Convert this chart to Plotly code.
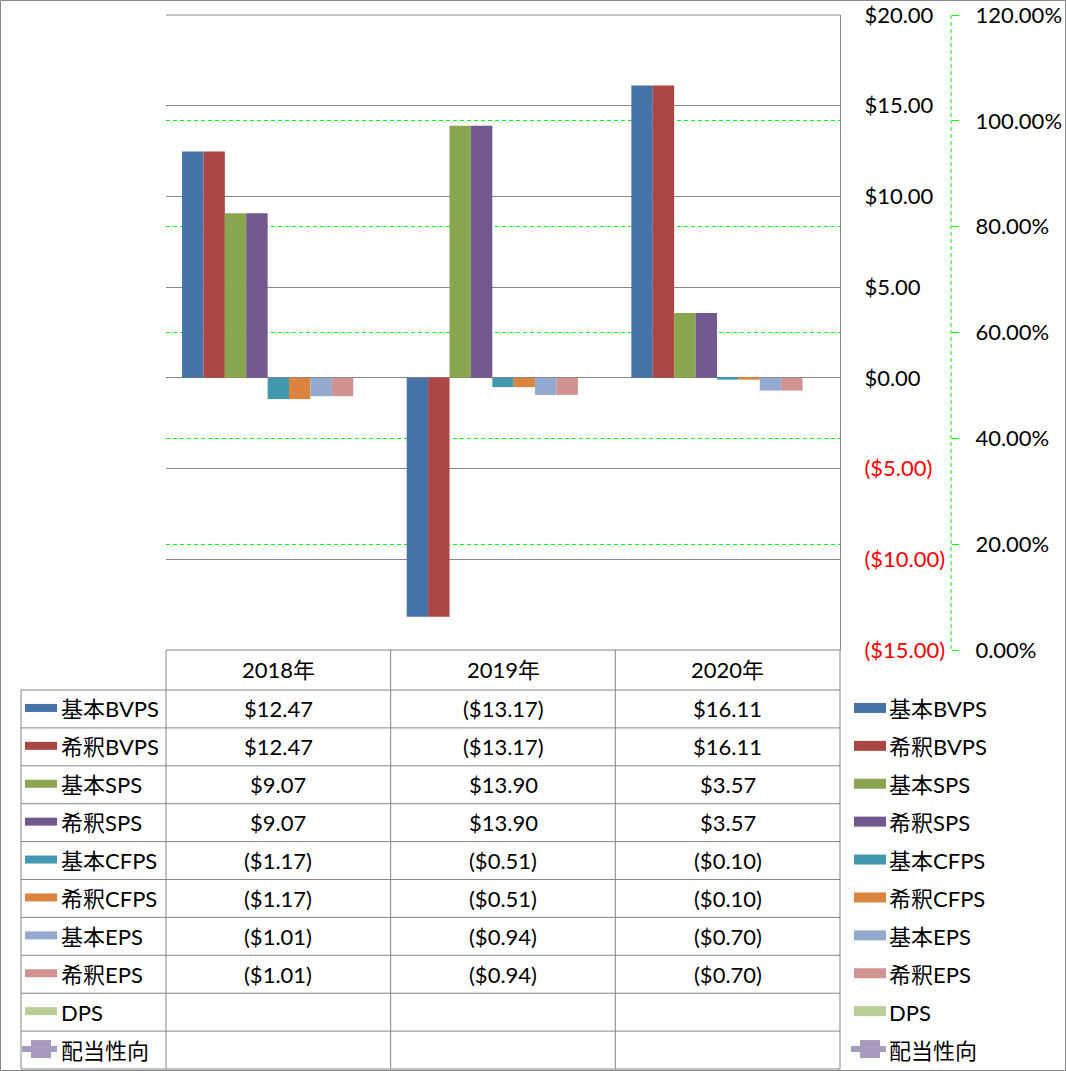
import plotly.graph_objects as go

W, H = 1066, 1071

# ---------------- data ----------------
years = ["2018年", "2019年", "2020年"]
series_names = ["基本BVPS", "希釈BVPS", "基本SPS", "希釈SPS", "基本CFPS",
                "希釈CFPS", "基本EPS", "希釈EPS", "DPS"]
basic_bvps = [12.47, -13.17, 16.11]
diluted_bvps = [12.47, -13.17, 16.11]
basic_sps = [9.07, 13.90, 3.57]
diluted_sps = [9.07, 13.90, 3.57]
basic_cfps = [-1.17, -0.51, -0.10]
diluted_cfps = [-1.17, -0.51, -0.10]
basic_eps = [-1.01, -0.94, -0.70]
diluted_eps = [-1.01, -0.94, -0.70]
dps = [None, None, None]
payout_name = "配当性向"
payout_ratio = [None, None, None]

series_values = [basic_bvps, diluted_bvps, basic_sps, diluted_sps, basic_cfps,
                 diluted_cfps, basic_eps, diluted_eps, dps]
bar_colors = ["#4572A7", "#AA4643", "#89A54E", "#71588F", "#4198AF",
              "#DB843D", "#93A9CF", "#D19392", "#B9CD96"]
payout_color = "#A99BBD"

usd_ticks = [-15, -10, -5, 0, 5, 10, 15, 20]
pct_ticks = [0.0, 0.2, 0.4, 0.6, 0.8, 1.0, 1.2]

# ---------------- style ----------------
FONT = "Lato, 'Noto Sans CJK JP', sans-serif"
FS = 22
GRAY = "#868686"
GREEN = "#00FF00"
RED = "#FF0000"


def px(x):
    return x / W


def py(y):
    return 1 - y / H


def usd(v):
    if v is None:
        return ""
    return f"${v:,.2f}" if v >= 0 else f"(${-v:,.2f})"


PLOT_L, PLOT_R, PLOT_T, PLOT_B = 166, 840, 15, 650
SEC_AXIS_X = 951
LEG_L = 21
ROW_TOP = 690
ROW_BOT = 1069
n_rows = len(series_names) + 1
ROW_H = (ROW_BOT - ROW_TOP) / n_rows

fig = go.Figure()

for name, vals, col in zip(series_names, series_values, bar_colors):
    fig.add_trace(go.Bar(x=years, y=vals, name=name, marker_color=col,
                         marker_line_width=0, yaxis="y", hoverinfo="skip"))

fig.add_trace(go.Scatter(x=years, y=payout_ratio, name=payout_name, yaxis="y2",
                         mode="lines+markers",
                         line=dict(color=payout_color, width=6),
                         marker=dict(symbol="square", size=14, color=payout_color),
                         hoverinfo="skip"))

usd_text = []
for v in usd_ticks:
    t = usd(v)
    if v < 0:
        t = f'<span style="color:{RED}">{t}</span>'
    usd_text.append(t)

shapes = []
annotations = []

# outer border
shapes.append(dict(type="rect", xref="paper", yref="paper",
                   x0=px(0.5), x1=px(W - 0.5), y0=py(0.5), y1=py(H - 0.5),
                   line=dict(color=GRAY, width=1), layer="above"))
# top plot line (over secondary grid)
shapes.append(dict(type="line", xref="paper", yref="paper",
                   x0=px(PLOT_L), x1=px(PLOT_R), y0=py(PLOT_T), y1=py(PLOT_T),
                   line=dict(color=GRAY, width=1), layer="above"))
# secondary axis dashed line
shapes.append(dict(type="line", xref="paper", yref="paper",
                   x0=px(SEC_AXIS_X), x1=px(SEC_AXIS_X), y0=py(PLOT_T), y1=py(PLOT_B),
                   line=dict(color=GREEN, width=1, dash="4px,3px"), layer="above"))

# table horizontal lines
shapes.append(dict(type="line", xref="paper", yref="paper",
                   x0=px(PLOT_L), x1=px(PLOT_R), y0=py(PLOT_B), y1=py(PLOT_B),
                   line=dict(color=GRAY, width=1), layer="above"))
for i in range(n_rows + 1):
    yy = ROW_TOP + i * ROW_H
    shapes.append(dict(type="line", xref="paper", yref="paper",
                       x0=px(LEG_L), x1=px(PLOT_R), y0=py(yy), y1=py(yy),
                       line=dict(color=GRAY, width=1), layer="above"))
# table vertical lines
shapes.append(dict(type="line", xref="paper", yref="paper",
                   x0=px(LEG_L), x1=px(LEG_L), y0=py(ROW_TOP), y1=py(ROW_BOT),
                   line=dict(color=GRAY, width=1), layer="above"))
for xx in [PLOT_L, PLOT_R]:
    shapes.append(dict(type="line", xref="paper", yref="paper",
                       x0=px(xx), x1=px(xx), y0=py(PLOT_B), y1=py(ROW_BOT),
                       line=dict(color=GRAY, width=1), layer="above"))
for k in range(1, len(years)):
    shapes.append(dict(type="line", xref="x", yref="paper",
                       x0=k - 0.5, x1=k - 0.5, y0=py(PLOT_B), y1=py(ROW_BOT),
                       line=dict(color=GRAY, width=1), layer="above"))

# header
for yr in years:
    annotations.append(dict(x=yr, y=py((PLOT_B + ROW_TOP) / 2 - 1), xref="x", yref="paper",
                            text=yr, showarrow=False, xanchor="center", yanchor="middle",
                            font=dict(family=FONT, size=FS, color="#000")))

all_names = series_names + [payout_name]
all_values = series_values + [payout_ratio]
all_colors = bar_colors + [payout_color]


def legend_key(x0, x1, yc, color, is_line, hh):
    if not is_line:
        shapes.append(dict(type="rect", xref="paper", yref="paper",
                           x0=px(x0), x1=px(x1), y0=py(yc - hh / 2), y1=py(yc + hh / 2),
                           fillcolor=color, line=dict(width=0), layer="above"))
    else:
        shapes.append(dict(type="line", xref="paper", yref="paper",
                           x0=px(x0 - 3), x1=px(x1), y0=py(yc), y1=py(yc),
                           line=dict(color=color, width=6), layer="above"))
        xc = (x0 + x1) / 2
        shapes.append(dict(type="rect", xref="paper", yref="paper",
                           x0=px(xc - 10), x1=px(xc + 10), y0=py(yc - 9), y1=py(yc + 9),
                           fillcolor=color, line=dict(width=0), layer="above"))


for i, (name, vals, col) in enumerate(zip(all_names, all_values, all_colors)):
    yc = ROW_TOP + (i + 0.5) * ROW_H
    is_line = (i == len(all_names) - 1)
    # left legend in table
    legend_key(25, 57, yc - 1, col, is_line, 8)
    annotations.append(dict(x=px(59), y=py(yc), xref="paper", yref="paper",
                            text=name, showarrow=False, xanchor="left", yanchor="middle",
                            font=dict(family=FONT, size=FS, color="#000")))
    # right legend
    legend_key(854, 886, yc - 1, col, is_line, 10)
    annotations.append(dict(x=px(887), y=py(yc), xref="paper", yref="paper",
                            text=name, showarrow=False, xanchor="left", yanchor="middle",
                            font=dict(family=FONT, size=FS, color="#000")))
    # values
    for yr, v in zip(years, vals):
        if v is None:
            continue
        txt = usd(v) if not is_line else f"{v:.2%}"
        annotations.append(dict(x=yr, y=py(yc), xref="x", yref="paper",
                                text=txt, showarrow=False, xanchor="center",
                                yanchor="middle",
                                font=dict(family=FONT, size=FS, color="#000")))

fig.update_layout(
    template="none",
    width=W, height=H,
    margin=dict(l=0, r=0, t=0, b=0, pad=0, autoexpand=False),
    paper_bgcolor="white", plot_bgcolor="white",
    font=dict(family=FONT, size=FS, color="#000"),
    barmode="group", bargap=1.5 / 10.5, bargroupgap=0,
    showlegend=False,
    xaxis=dict(domain=[px(PLOT_L), px(PLOT_R)], type="category",
               range=[-0.5, len(years) - 0.5], showticklabels=False,
               showgrid=False, zeroline=False, showline=False, ticks="",
               automargin=False),
    yaxis=dict(domain=[py(PLOT_B), py(PLOT_T)], range=[usd_ticks[0], usd_ticks[-1]],
               side="right", tickvals=usd_ticks, ticktext=usd_text,
               showgrid=True, gridcolor=GRAY, gridwidth=1, zeroline=False,
               showline=True, linecolor=GRAY, linewidth=1, ticks="",
               ticklabelstandoff=19, automargin=False,
               tickfont=dict(family=FONT, size=FS, color="#000")),
    yaxis2=dict(overlaying="y", side="right", anchor="free", position=px(SEC_AXIS_X),
                range=[pct_ticks[0], pct_ticks[-1]], tickvals=pct_ticks,
                tickformat=".2%", showgrid=True, gridcolor=GREEN, gridwidth=1,
                griddash="4px,3px", zeroline=False, showline=False,
                ticks="outside", ticklen=7, tickcolor=GREEN, tickwidth=1,
                ticklabelstandoff=12, automargin=False,
                tickfont=dict(family=FONT, size=FS, color="#000")),
    shapes=shapes,
    annotations=annotations,
)

fig.write_html("out.html", config={"displayModeBar": False})
